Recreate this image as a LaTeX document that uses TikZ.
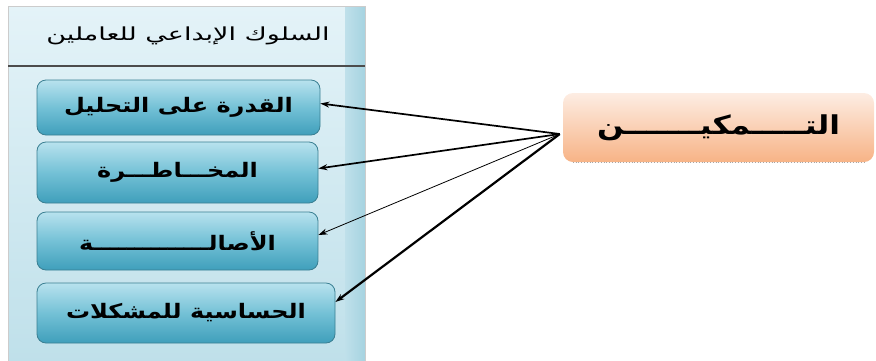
\documentclass[tikz,border=0pt]{standalone}
\usepackage{fontspec}
\TeXXeTstate=1
\newfontfamily\arabicfont[Script=Arabic]{DejaVu Sans}
\usetikzlibrary{arrows.meta,calc}
\definecolor{panelL}{HTML}{E4F3F8}
\definecolor{panelR}{HTML}{BFE0EA}
\definecolor{boxT}{HTML}{B8E2EE}
\definecolor{boxM}{HTML}{74C1D6}
\definecolor{boxB}{HTML}{3F9FBB}
\definecolor{boxD}{HTML}{3A7F92}
\definecolor{orT}{HTML}{FDEDE3}
\definecolor{orB}{HTML}{F7B386}
\newcommand{\itemtext}[1]{\scalebox{1.2}[1]{\beginR #1\endR}}
\tikzset{
  itembox/.style={draw=boxD, line width=0.8pt, rounded corners=9pt,
    top color=boxT, bottom color=boxB, middle color=boxM,
    minimum height=57pt, inner sep=0pt,
    font=\arabicfont\bfseries\fontsize{20}{24}\selectfont},
  mainbox/.style={rounded corners=10pt,
    top color=orT, bottom color=orB, minimum width=311pt, minimum height=69pt,
    font=\arabicfont\bfseries\fontsize{26}{30}\selectfont},
  arr/.style={-{Stealth[length=9pt,width=6pt]}, black},
}
\begin{document}
\begin{tikzpicture}[x=1pt,y=-1pt]
\useasboundingbox (0,0) rectangle (876,360);
% panel
\shade[left color=panelL, right color=panelR, shading angle=0] (8,6) rectangle (365,362);
\shade[left color=panelR, right color=panelR!80!boxB] (345,6) rectangle (365,362);
\draw[gray!40] (8,362) -- (8,6) -- (365,6) -- (365,362);
\node[font=\arabicfont\fontsize{18}{22}\selectfont, text=black] (hdr) at (188,36) {\scalebox{1.5}[1]{\beginR السلوك الإبداعي للعاملين\endR}};
\draw[black!70, line width=1.4pt] (8,66) -- (365,66);
% item boxes
\node[itembox, minimum width=283pt, minimum height=55pt] (n1) at (178.5,107.5) {\itemtext{القدرة على التحليل}};
\node[itembox, minimum width=281pt, minimum height=61pt] (n2) at (177.5,172.5) {\itemtext{المخـــاطـــرة}};
\node[itembox, minimum width=281pt, minimum height=58pt] (n3) at (177.5,241) {\itemtext{الأصالــــــــــــــة}};
\node[itembox, minimum width=298pt, minimum height=60pt] (n4) at (186,313) {\itemtext{الحساسية للمشكلات}};
% main box
\node[mainbox] (m) at (718.5,127.5) {\scalebox{1.2}[1]{\beginR التـــــمكيـــــــن\endR}};
\draw[gray!70, dotted, line width=0.8pt] ($(m.south west)+(10,0)$) -- ($(m.south east)+(-8,0)$);
\coordinate (src) at ($(m.west)+(-3,6.5)$);
\draw[arr, line width=1.7pt] (src) -- ($(n1.east)+(0,-4)$);
\draw[arr, line width=1.7pt] (src) -- ($(n2.east)+(0,-4)$);
\draw[arr, line width=0.8pt] (src) -- ($(n3.east)+(0,-6)$);
\draw[arr, line width=2.2pt] (src) -- ($(n4.east)+(0,-11)$);
\end{tikzpicture}
\end{document}
